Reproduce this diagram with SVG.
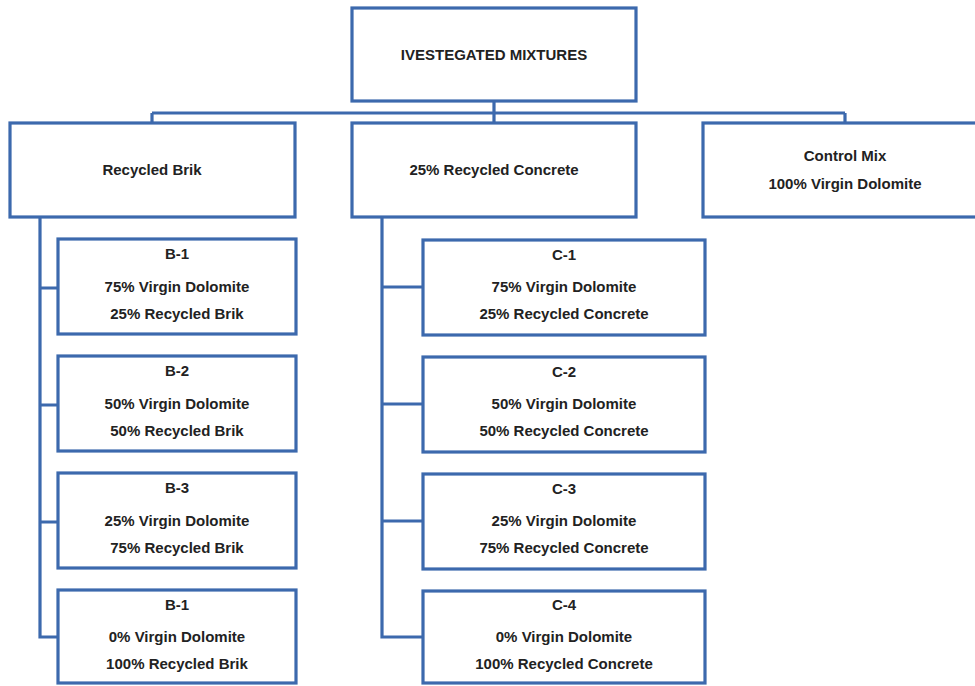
<svg xmlns="http://www.w3.org/2000/svg" width="975" height="686" viewBox="0 0 975 686">
<style>
.box{fill:#fff;stroke:#3c69ad;stroke-width:3.2}
.ln{fill:none;stroke:#3c69ad;stroke-width:3.2}
text{font-family:"Liberation Sans",Arial,sans-serif;font-weight:bold;font-size:15px;fill:#222;text-anchor:middle}
</style>
<rect width="975" height="686" fill="#fff"/>
<g id="connectors">
<path class="ln" d="M494 101V113M152 113H845M152 113V123M494 113V123M845 113V123"/>
<path class="ln" d="M40 217V637H58M40 288H58M40 405H58M40 522H58"/>
<path class="ln" d="M382 217V637H423M382 287H423M382 404H423M382 521H423"/>
</g>
<g id="root"><rect class="box" x="352" y="8" width="284" height="93"/><text x="494" y="60">IVESTEGATED MIXTURES</text></g>
<g id="brik"><rect class="box" x="10" y="123" width="285" height="94"/><text x="152" y="175">Recycled Brik</text></g>
<g id="concrete"><rect class="box" x="352" y="123" width="284" height="94"/><text x="494" y="175">25% Recycled Concrete</text></g>
<g id="control"><rect class="box" x="703" y="123" width="280" height="94"/><text x="845" y="161">Control Mix</text><text x="845" y="189">100% Virgin Dolomite</text></g>
<g id="b1"><rect class="box" x="58" y="239" width="238" height="95"/><text x="177" y="259">B-1</text><text x="177" y="292">75% Virgin Dolomite</text><text x="177" y="319">25% Recycled Brik</text></g>
<g id="b2"><rect class="box" x="58" y="356" width="238" height="95"/><text x="177" y="376">B-2</text><text x="177" y="409">50% Virgin Dolomite</text><text x="177" y="436">50% Recycled Brik</text></g>
<g id="b3"><rect class="box" x="58" y="473" width="238" height="95"/><text x="177" y="493">B-3</text><text x="177" y="526">25% Virgin Dolomite</text><text x="177" y="553">75% Recycled Brik</text></g>
<g id="b4"><rect class="box" x="58" y="590" width="238" height="93"/><text x="177" y="610">B-1</text><text x="177" y="642">0% Virgin Dolomite</text><text x="177" y="669">100% Recycled Brik</text></g>
<g id="c1"><rect class="box" x="423" y="240" width="282" height="95"/><text x="564" y="260">C-1</text><text x="564" y="292">75% Virgin Dolomite</text><text x="564" y="319">25% Recycled Concrete</text></g>
<g id="c2"><rect class="box" x="423" y="357" width="282" height="95"/><text x="564" y="377">C-2</text><text x="564" y="409">50% Virgin Dolomite</text><text x="564" y="436">50% Recycled Concrete</text></g>
<g id="c3"><rect class="box" x="423" y="474" width="282" height="95"/><text x="564" y="494">C-3</text><text x="564" y="526">25% Virgin Dolomite</text><text x="564" y="553">75% Recycled Concrete</text></g>
<g id="c4"><rect class="box" x="423" y="591" width="282" height="92"/><text x="564" y="610">C-4</text><text x="564" y="642">0% Virgin Dolomite</text><text x="564" y="669">100% Recycled Concrete</text></g>
</svg>
